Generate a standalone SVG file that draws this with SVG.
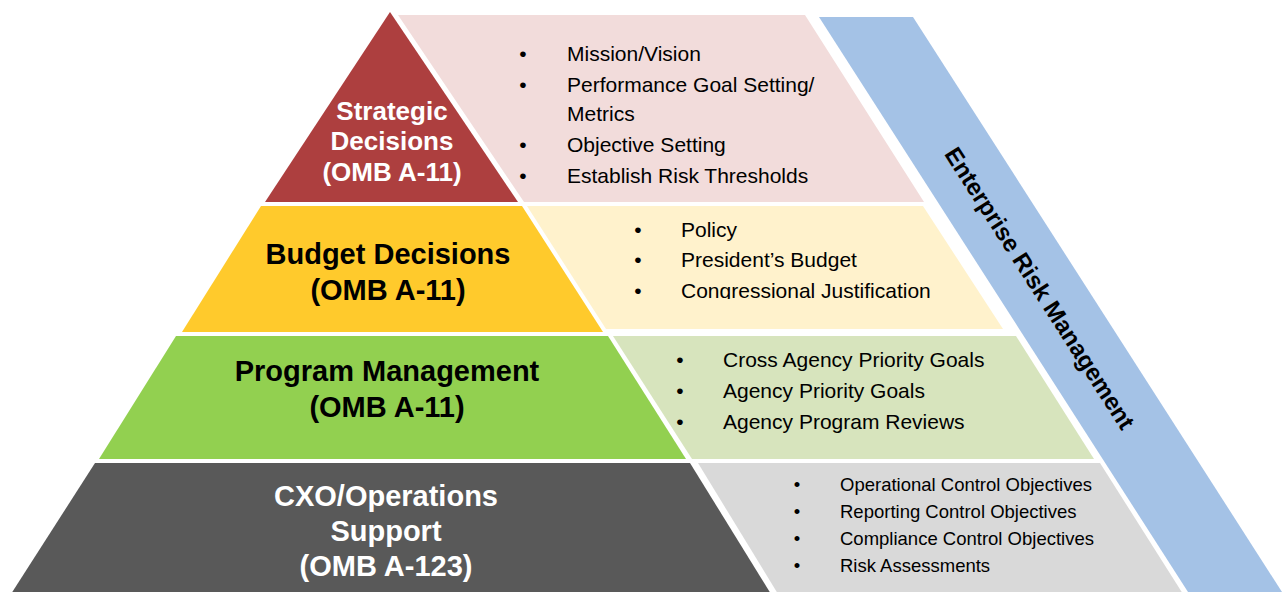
<svg xmlns="http://www.w3.org/2000/svg" width="1284" height="592" viewBox="0 0 1284 592">
<style>
.t{font-family:"Liberation Sans",Arial,sans-serif;font-weight:bold;text-anchor:middle}
.b{font-family:"Liberation Sans",Arial,sans-serif;font-size:21px;fill:#000}
.s{font-size:18.5px}
.d{text-anchor:middle}
</style>
<defs>
<clipPath id="cpY"><rect x="520" y="206" width="500" height="93"/></clipPath>
</defs>
<rect width="1284" height="592" fill="#fff"/>
<g id="erm">
<polygon points="819,17 913,17 1282,592 1188,592" fill="#A4C2E6"/>
<text class="t" x="1040" y="288" font-size="24" dominant-baseline="central" transform="rotate(57.3 1040 288)">Enterprise Risk Management</text>
</g>
<g id="strategic">
<polygon points="390,12 518,202 265,202" fill="#AD3F3F"/>
<text class="t" font-size="26" fill="#fff"><tspan x="392" y="120">Strategic</tspan><tspan x="392" y="150">Decisions</tspan><tspan x="392" y="181">(OMB A-11)</tspan></text>
</g>
<g id="strategic-items">
<polygon points="398,15 805,15 924,202 524,202" fill="#F2DCDB"/>
<g class="b">
<text class="d" x="523" y="61">•</text><text x="567" y="61">Mission/Vision</text>
<text class="d" x="523" y="92">•</text><text x="567" y="92">Performance Goal Setting/</text>
<text x="567" y="121">Metrics</text>
<text class="d" x="523" y="152">•</text><text x="567" y="152">Objective Setting</text>
<text class="d" x="523" y="183">•</text><text x="567" y="183">Establish Risk Thresholds</text>
</g>
</g>
<g id="budget">
<polygon points="261,206 522,206 603,332 182,332" fill="#FFCA2C"/>
<text class="t" font-size="29" fill="#000"><tspan x="388" y="264">Budget Decisions</tspan><tspan x="388" y="300">(OMB A-11)</tspan></text>
</g>
<g id="budget-items">
<polygon points="527,206 923,206 1003,329 606,329" fill="#FFF2CC"/>
<g class="b" clip-path="url(#cpY)">
<text class="d" x="638" y="237">•</text><text x="681" y="237">Policy</text>
<text class="d" x="638" y="267">•</text><text x="681" y="267">President’s Budget</text>
<text class="d" x="638" y="298">•</text><text x="681" y="298">Congressional Justification</text>
</g>
</g>
<g id="program">
<polygon points="176,336 608,336 686,459 99,459" fill="#92D050"/>
<text class="t" font-size="29" fill="#000"><tspan x="387" y="381">Program Management</tspan><tspan x="387" y="417">(OMB A-11)</tspan></text>
</g>
<g id="program-items">
<polygon points="613,336 1016,336 1094,459 692,459" fill="#D7E4BD"/>
<g class="b">
<text class="d" x="680" y="367">•</text><text x="723" y="367">Cross Agency Priority Goals</text>
<text class="d" x="680" y="398">•</text><text x="723" y="398">Agency Priority Goals</text>
<text class="d" x="680" y="429">•</text><text x="723" y="429">Agency Program Reviews</text>
</g>
</g>
<g id="cxo">
<polygon points="95,463 690,463 771,594 11,594" fill="#595959"/>
<text class="t" font-size="29" fill="#fff"><tspan x="386" y="506">CXO/Operations</tspan><tspan x="386" y="541">Support</tspan><tspan x="386" y="576">(OMB A-123)</tspan></text>
</g>
<g id="cxo-items">
<polygon points="698,463 1100,463 1183,594 778,594" fill="#D9D9D9"/>
<g class="b s">
<text class="d" x="797" y="491">•</text><text x="840" y="491">Operational Control Objectives</text>
<text class="d" x="797" y="518">•</text><text x="840" y="518">Reporting Control Objectives</text>
<text class="d" x="797" y="545">•</text><text x="840" y="545">Compliance Control Objectives</text>
<text class="d" x="797" y="572">•</text><text x="840" y="572">Risk Assessments</text>
</g>
</g>
<g id="connectors"/>
</svg>
